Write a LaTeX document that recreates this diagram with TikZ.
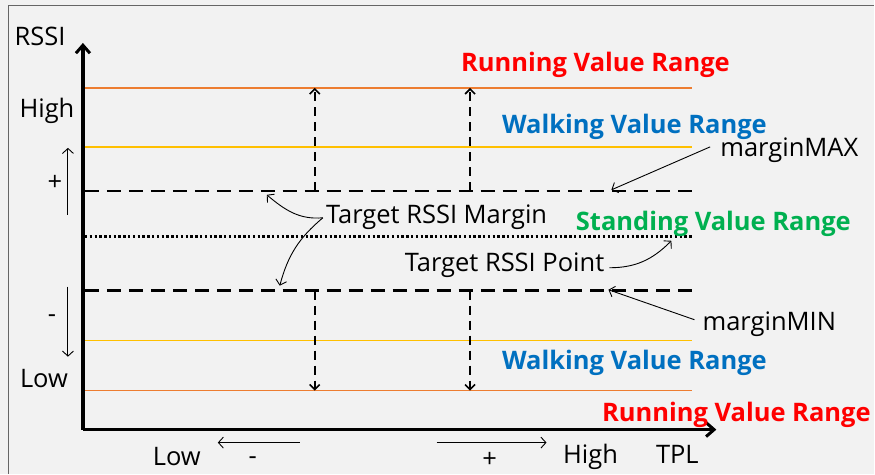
\documentclass[tikz,border=0pt]{standalone}
\usepackage{fontspec}
\setmainfont{Open Sans}
\usepackage{xcolor}
\usetikzlibrary{arrows.meta,positioning,calc}

\definecolor{runorange}{HTML}{ED7D31}
\definecolor{walkyellow}{HTML}{FFC000}
\definecolor{runred}{HTML}{FF0000}
\definecolor{walkblue}{HTML}{0070C0}
\definecolor{standgreen}{HTML}{00B050}

\begin{document}
\begin{tikzpicture}[x=1pt, y=1pt,
    txt/.style={inner sep=0pt, font=\fontsize{25.5}{28}\selectfont},
    rangetxt/.style={inner sep=0pt, font=\fontsize{25.5}{28}\selectfont\bfseries},
    axisline/.style={line width=3.5pt, -{Straight Barb[length=8pt, width=14pt, line width=3pt]}},
    marginline/.style={line width=2.6pt, dash pattern=on 14pt off 8pt},
    pointline/.style={line width=2.6pt, dash pattern=on 2.4pt off 2.4pt},
    moveline/.style={line width=2pt, dash pattern=on 9pt off 6pt, -{Straight Barb[length=5pt, width=10pt, line width=1.6pt]}},
    thinarrow/.style={line width=0.9pt, -{Straight Barb[length=5pt, width=11pt]}}]

    % background and frame
    \fill[gray!10] (0,0) rectangle (875,474);
    \draw[gray!80!black, line width=1.6pt] (8.5,0) -- (8.5,468.5) -- (875,468.5);

    % range lines
    \draw[runorange, line width=1.3pt] (85,386) -- (693,386);
    \draw[walkyellow, line width=1.3pt] (85,327) -- (693,327);
    \draw[marginline] (85,283) -- (693,283);
    \draw[pointline] (85,237) -- (693,237);
    \draw[marginline] (85,183) -- (693,183);
    \draw[walkyellow, line width=1.3pt] (85,133) -- (693,133);
    \draw[runorange, line width=1.3pt] (85,83) -- (693,83);

    % moving up / down
    \foreach \x in {315,470.5} {
        \draw[moveline] (\x,283) -- (\x,386);
        \draw[moveline] (\x,183) -- (\x,83);
    }

    % axes
    \coordinate (origin) at (83,44);
    \draw[axisline] (origin) -- (83,431);
    \draw[axisline] (origin) -- (717,44);

    % RSSI side
    \node[txt] (rssi) at (40,438) {RSSI};
    \node[txt] (rhigh) at (47,363) {High};
    \node[txt] (rplus) at (55,291) {+};
    \node[txt] (rminus) at (52,155) {-};
    \node[txt] (rlow) at (44,95) {Low};
    \coordinate (upA) at (68,259);
    \coordinate (upB) at (68,326);
    \coordinate (dnA) at (68,187);
    \coordinate (dnB) at (68,117);
    \draw[thinarrow] (upA) -- (upB);
    \draw[thinarrow] (dnA) -- (dnB);

    % TPL side
    \node[txt] (tlow) at (177,17) {Low};
    \node[txt] (tminus) at (253,13) {-};
    \node[txt] (tplus) at (490,14) {+};
    \node[txt] (thigh) at (591,17) {High};
    \node[txt] (tpl) at (678,19) {TPL};
    \coordinate (lfA) at (300,31);
    \coordinate (lfB) at (218,31);
    \coordinate (rtA) at (437,31);
    \coordinate (rtB) at (547,31);
    \draw[thinarrow] (lfA) -- (lfB);
    \draw[thinarrow] (rtA) -- (rtB);

    % range labels
    \node[rangetxt, text=runred] (runtop) at (596,409) {Running Value Range};
    \node[rangetxt, text=walkblue] (walktop) at (635,347) {Walking Value Range};
    \node[rangetxt, text=standgreen] (stand) at (714,250) {Standing Value Range};
    \node[rangetxt, text=walkblue] (walkbot) at (635,111) {Walking Value Range};
    \node[rangetxt, text=runred] (runbot) at (737,59) {Running Value Range};

    % margin labels
    \node[txt] (mmax) at (790,324) {marginMAX};
    \node[txt] (mmin) at (770,149) {marginMIN};
    \node[txt] (margin) at (437,257) {Target RSSI Margin};
    \node[txt] (point) at (505,209) {Target RSSI Point};
    \coordinate (mmaxtip) at (612,284);
    \coordinate (mmintip) at (609,184);
    \coordinate (uptip) at (267,279);
    \coordinate (dntip) at (280,188);
    \coordinate (pttip) at (672,233);

    \draw[thinarrow] ([xshift=-10pt,yshift=3pt]mmax.west) -- (mmaxtip);
    \draw[thinarrow] ([xshift=-8pt,yshift=5pt]mmin.west) -- (mmintip);
    \draw[thinarrow] ([xshift=-3pt,yshift=-1pt]margin.west) to[out=185, in=-40] (uptip);
    \draw[thinarrow] ([xshift=-3pt,yshift=-1pt]margin.west) to[out=-140, in=75] (dntip);
    \draw[thinarrow] ([xshift=5pt,yshift=-3pt]point.east) to[out=0, in=-135] (pttip);
\end{tikzpicture}
\end{document}
